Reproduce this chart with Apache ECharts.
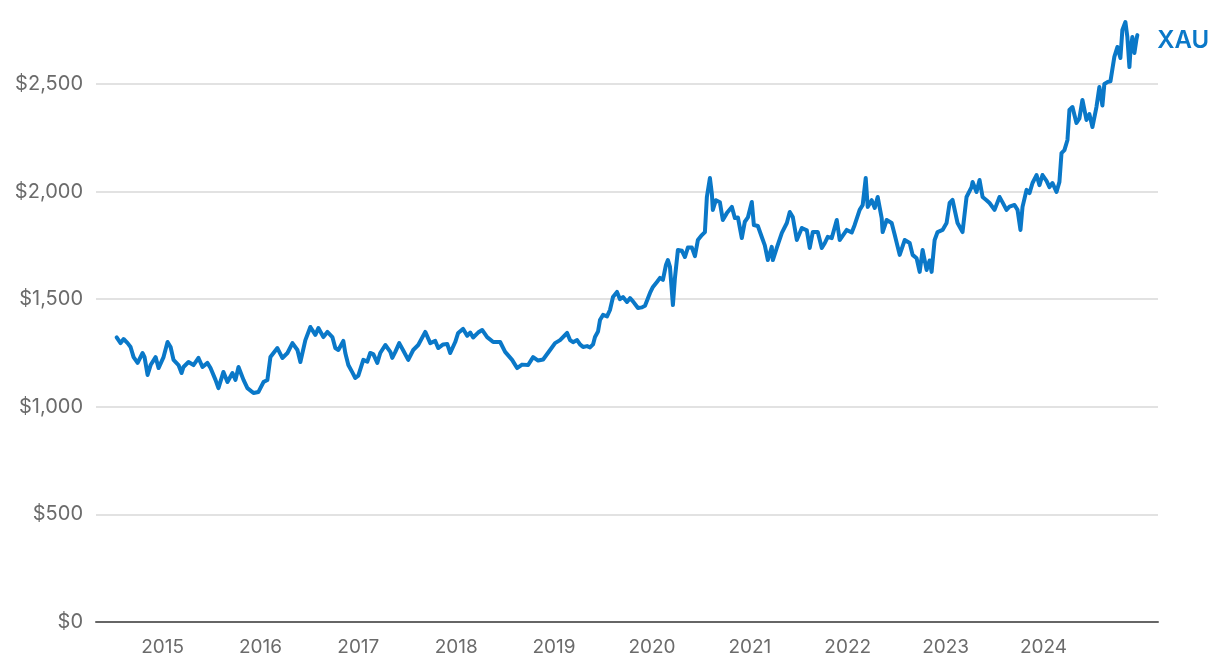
<!DOCTYPE html>
<html>
<head>
<meta charset="utf-8">
<script src="https://cdn.jsdelivr.net/npm/echarts@6/dist/echarts.min.js"></script>
<style>
  html, body { margin: 0; padding: 0; background: #ffffff; }
  #chart { width: 1220px; height: 668px; }
</style>
</head>
<body>
<div id="chart"></div>
<script>
// Time in decimal years (e.g. 2015.5 = start of July 2015)
const years = [
  2014.531, 2014.571, 2014.602, 2014.643, 2014.673, 2014.704, 2014.745, 2014.796, 2014.816, 2014.847,
  2014.878, 2014.929, 2014.959, 2015.010, 2015.051, 2015.082, 2015.112, 2015.163, 2015.194, 2015.214,
  2015.265, 2015.316, 2015.367, 2015.408, 2015.459, 2015.490, 2015.541, 2015.571, 2015.622, 2015.663,
  2015.714, 2015.745, 2015.776, 2015.827, 2015.867, 2015.929, 2015.980, 2016.031, 2016.071, 2016.102,
  2016.173, 2016.224, 2016.276, 2016.327, 2016.378, 2016.408, 2016.459, 2016.510, 2016.561, 2016.592,
  2016.643, 2016.684, 2016.735, 2016.765, 2016.796, 2016.847, 2016.867, 2016.898, 2016.939, 2016.969,
  2017.000, 2017.051, 2017.092, 2017.122, 2017.153, 2017.194, 2017.224, 2017.276, 2017.327, 2017.347,
  2017.378, 2017.418, 2017.459, 2017.510, 2017.561, 2017.612, 2017.684, 2017.735, 2017.786, 2017.816,
  2017.867, 2017.908, 2017.939, 2017.990, 2018.020, 2018.071, 2018.112, 2018.143, 2018.173, 2018.224,
  2018.265, 2018.316, 2018.378, 2018.449, 2018.500, 2018.571, 2018.622, 2018.673, 2018.735, 2018.786,
  2018.837, 2018.888, 2018.959, 2019.010, 2019.061, 2019.133, 2019.163, 2019.194, 2019.235, 2019.265,
  2019.296, 2019.337, 2019.367, 2019.398, 2019.418, 2019.449, 2019.469, 2019.500, 2019.541, 2019.571,
  2019.602, 2019.643, 2019.673, 2019.704, 2019.745, 2019.776, 2019.806, 2019.857, 2019.898, 2019.929,
  2019.980, 2020.010, 2020.051, 2020.082, 2020.112, 2020.143, 2020.163, 2020.184, 2020.214, 2020.235,
  2020.265, 2020.306, 2020.337, 2020.367, 2020.408, 2020.439, 2020.469, 2020.510, 2020.541, 2020.561,
  2020.592, 2020.612, 2020.622, 2020.653, 2020.694, 2020.724, 2020.765, 2020.816, 2020.847, 2020.878,
  2020.918, 2020.949, 2020.980, 2021.020, 2021.041, 2021.082, 2021.122, 2021.153, 2021.184, 2021.224,
  2021.235, 2021.276, 2021.327, 2021.378, 2021.408, 2021.439, 2021.480, 2021.531, 2021.582, 2021.612,
  2021.643, 2021.694, 2021.735, 2021.765, 2021.796, 2021.837, 2021.888, 2021.918, 2021.990, 2022.041,
  2022.071, 2022.122, 2022.153, 2022.184, 2022.204, 2022.245, 2022.276, 2022.306, 2022.347, 2022.357,
  2022.398, 2022.449, 2022.480, 2022.531, 2022.582, 2022.633, 2022.663, 2022.704, 2022.735, 2022.765,
  2022.806, 2022.837, 2022.857, 2022.888, 2022.918, 2022.969, 2023.010, 2023.041, 2023.071, 2023.122,
  2023.173, 2023.214, 2023.265, 2023.276, 2023.316, 2023.347, 2023.378, 2023.418, 2023.449, 2023.500,
  2023.551, 2023.582, 2023.622, 2023.653, 2023.704, 2023.735, 2023.765, 2023.786, 2023.827, 2023.857,
  2023.888, 2023.929, 2023.959, 2023.990, 2024.031, 2024.061, 2024.092, 2024.133, 2024.163, 2024.184,
  2024.214, 2024.245, 2024.265, 2024.296, 2024.337, 2024.367, 2024.398, 2024.439, 2024.469, 2024.500,
  2024.541, 2024.571, 2024.602, 2024.622, 2024.653, 2024.684, 2024.724, 2024.755, 2024.786, 2024.806,
  2024.837, 2024.857, 2024.878, 2024.888, 2024.908, 2024.929, 2024.949, 2024.959
];

// XAU price in US dollars
const prices = [
  1323, 1296, 1315, 1296, 1278, 1231, 1204, 1250, 1231, 1148,
  1194, 1231, 1180, 1231, 1301, 1278, 1218, 1194, 1157, 1185,
  1208, 1194, 1227, 1185, 1204, 1180, 1125, 1087, 1162, 1115,
  1157, 1125, 1185, 1125, 1087, 1064, 1069, 1115, 1125, 1231,
  1273, 1227, 1250, 1296, 1264, 1208, 1310, 1371, 1334, 1366,
  1324, 1348, 1324, 1273, 1264, 1306, 1250, 1194, 1160, 1134,
  1145, 1218, 1210, 1250, 1245, 1204, 1250, 1287, 1255, 1227,
  1255, 1296, 1262, 1218, 1264, 1287, 1348, 1296, 1306, 1273,
  1290, 1292, 1250, 1301, 1343, 1362, 1330, 1345, 1322, 1345,
  1357, 1324, 1301, 1301, 1255, 1218, 1180, 1196, 1194, 1231,
  1215, 1220, 1264, 1296, 1310, 1343, 1310, 1300, 1310, 1290,
  1278, 1282, 1276, 1290, 1324, 1350, 1403, 1427, 1420, 1450,
  1510, 1534, 1500, 1510, 1487, 1505, 1490, 1459, 1462, 1470,
  1529, 1557, 1580, 1599, 1590, 1659, 1682, 1650, 1473, 1600,
  1729, 1725, 1696, 1740, 1740, 1700, 1775, 1798, 1812, 1975,
  2063, 1990, 1915, 1960, 1950, 1868, 1900, 1929, 1877, 1880,
  1784, 1860, 1880, 1952, 1845, 1840, 1789, 1750, 1682, 1743,
  1682, 1740, 1808, 1854, 1905, 1882, 1775, 1831, 1820, 1738,
  1812, 1812, 1738, 1760, 1790, 1784, 1868, 1775, 1822, 1810,
  1845, 1915, 1938, 2063, 1929, 1960, 1924, 1975, 1877, 1812,
  1868, 1854, 1800, 1706, 1775, 1761, 1706, 1690, 1627, 1729,
  1636, 1680, 1627, 1775, 1812, 1822, 1854, 1947, 1961, 1854,
  1812, 1975, 2021, 2045, 1998, 2054, 1975, 1960, 1947, 1915,
  1975, 1950, 1915, 1930, 1938, 1915, 1822, 1929, 2008, 1993,
  2040, 2077, 2030, 2077, 2050, 2021, 2040, 1998, 2045, 2179,
  2193, 2240, 2379, 2393, 2319, 2340, 2426, 2333, 2360, 2300,
  2393, 2486, 2400, 2500, 2509, 2512, 2626, 2672, 2621, 2751,
  2788, 2718, 2579, 2650, 2718, 2644, 2705, 2727
];

const yearLabels = [2015, 2016, 2017, 2018, 2019, 2020, 2021, 2022, 2023, 2024];
const seriesName = 'XAU';

const chart = echarts.init(document.getElementById('chart'), null, { renderer: 'canvas' });
const labelFont = 'Inter, Roboto, "Noto Sans", sans-serif';

chart.setOption({
  animation: false,
  backgroundColor: '#ffffff',
  grid: { left: 96, right: 62, top: 84, bottom: 46, containLabel: false },
  xAxis: {
    type: 'value',
    min: 2014.32,
    max: 2025.17,
    axisLine: { show: true, lineStyle: { color: '#666666', width: 2 } },
    axisTick: { show: false },
    splitLine: { show: false },
    axisLabel: {
      customValues: yearLabels,
      formatter: v => String(v),
      color: '#6b6b6b',
      fontSize: 19,
      fontFamily: labelFont,
      margin: 16
    }
  },
  yAxis: {
    type: 'value',
    min: 0,
    max: 2500,
    interval: 500,
    axisLine: { show: false },
    axisTick: { show: false },
    splitLine: { show: true, lineStyle: { color: '#d9d9d9', width: 1.5 } },
    axisLabel: {
      formatter: v => '$' + v.toLocaleString('en-US'),
      color: '#6b6b6b',
      fontSize: 20,
      fontFamily: labelFont,
      margin: 13
    }
  },
  series: [{
    name: seriesName,
    type: 'line',
    data: years.map((t, i) => [t, prices[i]]),
    showSymbol: false,
    clip: false,
    smooth: false,
    lineStyle: { color: '#0a78c8', width: 4, join: 'round', cap: 'round' },
    itemStyle: { color: '#0a78c8' },
    endLabel: {
      show: true,
      formatter: seriesName,
      color: '#0a78c8',
      fontSize: 24,
      fontWeight: 600,
      fontFamily: labelFont,
      distance: 20,
      offset: [0, 6]
    }
  }]
});
</script>
</body>
</html>
